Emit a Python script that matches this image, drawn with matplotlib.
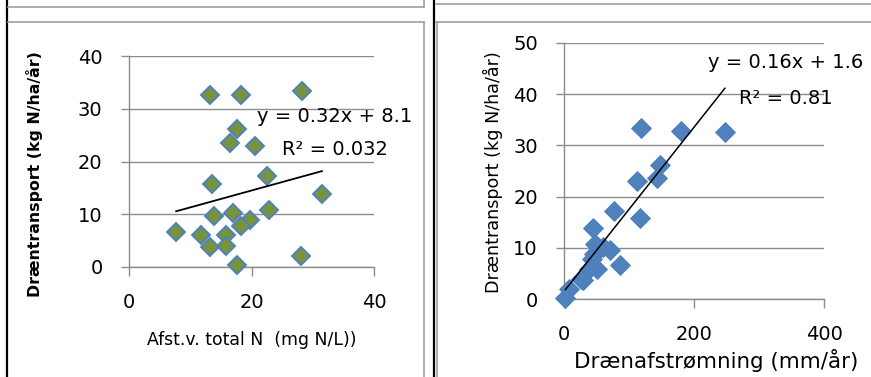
import numpy as np
import matplotlib
matplotlib.use('Agg')
import matplotlib.pyplot as plt
from matplotlib.lines import Line2D

# data (same 21 drains in both)
conc_n = [13.2, 18.3, 28.2, 17.7, 16.5, 20.5, 22.6, 13.5, 31.5, 22.9, 13.8,
          17.0, 19.7, 18.3, 7.7, 11.7, 15.8, 13.3, 15.8, 17.7, 28.0]
transport = [32.6, 32.7, 33.4, 26.1, 23.6, 23.0, 17.2, 15.8, 13.8, 10.8, 9.6,
             10.2, 8.9, 7.8, 6.6, 6.0, 6.0, 3.8, 3.9, 0.3, 2.0]
runoff = [247, 179, 118, 147, 143, 112, 76, 117, 44, 47, 70,
          60, 45, 43, 86, 51, 38, 29, 25, 1.7, 7]

# trendlines as printed in the charts
left_fit = (0.32, 8.1)
right_fit = (0.16, 1.6)
left_eq = ['y = 0.32x + 8.1', 'R² = 0.032']
right_eq = ['y = 0.16x + 1.6', 'R² = 0.81']

left_xticks = [0, 20, 40]
left_yticks = [0, 10, 20, 30, 40]
right_xticks = [0, 200, 400]
right_yticks = [0, 10, 20, 30, 40, 50]

GRID = '#8c8c8c'
BORDER = '#a0a0a0'
W, H = 871, 377

plt.rcParams['font.family'] = 'DejaVu Sans'
fig = plt.figure(figsize=(W / 100, H / 100), dpi=100)


def px_axes(x0, y0, x1, y1):
    # axes from pixel box (top-left origin)
    return fig.add_axes([x0 / W, 1 - y1 / H, (x1 - x0) / W, (y1 - y0) / H])


def fig_line(xs, ys, color, lw):
    fig.add_artist(Line2D([x / W for x in xs], [1 - y / H for y in ys],
                          color=color, lw=lw, transform=fig.transFigure))


def style_axes(ax):
    for s in ['top', 'right']:
        ax.spines[s].set_visible(False)
    for s in ['left', 'bottom']:
        ax.spines[s].set_color(GRID)
        ax.spines[s].set_linewidth(1.0)
    ax.yaxis.grid(True, color=GRID, lw=1.0)
    ax.set_axisbelow(True)
    ax.tick_params(axis='y', length=6, width=1.0, color=GRID, pad=13, labelsize=14)
    ax.tick_params(axis='x', length=6.5, width=1.0, color=GRID, pad=12, labelsize=14)


# table cell borders
fig_line([7, 7], [0, H], 'black', 1.6)
fig_line([8, 424], [7, 7], BORDER, 1.2)
fig_line([423.5, 423.5], [0, 7], BORDER, 1.2)
fig_line([8, 424], [22, 22], BORDER, 1.2)
fig_line([423.5, 423.5], [22, H], BORDER, 1.2)
fig_line([434, 434], [0, H], 'black', 1.6)
fig_line([436, W], [4, 4], BORDER, 1.2)
fig_line([436, W], [22, 22], BORDER, 1.2)
fig_line([436.5, 436.5], [22, H], BORDER, 1.2)

# ---- left chart: koncentration vs transport ----
ax1 = px_axes(129, 56, 374, 267)
style_axes(ax1)
ax1.plot(conc_n, transport, 'D', ms=9.4, mfc='#77933C', mec='#4F81BD',
         mew=1.4, clip_on=False, zorder=3)
xl = np.array([min(conc_n), max(conc_n)])
ax1.plot(xl, left_fit[0] * xl + left_fit[1], color='black', lw=1.3, zorder=4)
ax1.set_xlim(0, 40)
ax1.set_ylim(0, 40)
ax1.set_xticks(left_xticks)
ax1.set_yticks(left_yticks)
ax1.text(0.841, 0.711, left_eq[0], transform=ax1.transAxes, ha='center',
         va='center', fontsize=14)
ax1.text(0.841, 0.559, left_eq[1], transform=ax1.transAxes, ha='center',
         va='center', fontsize=14)
ax1.set_xlabel('Afst.v. total N  (mg N/L))', fontsize=12.4)
ax1.xaxis.label.set_va('center')
ax1.xaxis.set_label_coords(0.5, -0.346)
ax1.set_ylabel('Dræntransport (kg N/ha/år)', fontsize=11.3, fontweight='bold')
ax1.yaxis.label.set_va('center')
ax1.yaxis.set_label_coords(-0.384, 0.44)

# ---- right chart: afstrømning vs transport ----
ax2 = px_axes(564.3, 42.7, 824.3, 299.3)
style_axes(ax2)
ax2.plot(runoff, transport, 'D', ms=10.4, mfc='#4F81BD', mec='#4A7EBB',
         mew=0.6, clip_on=False, zorder=3)
xr = np.array([min(runoff), max(runoff)])
ax2.plot(xr, right_fit[0] * xr + right_fit[1], color='black', lw=1.1, zorder=4)
ax2.set_xlim(0, 400)
ax2.set_ylim(0, 50)
ax2.set_xticks(right_xticks)
ax2.set_yticks(right_yticks)
ax2.text(0.851, 0.921, right_eq[0], transform=ax2.transAxes, ha='center',
         va='center', fontsize=14)
ax2.text(0.853, 0.784, right_eq[1], transform=ax2.transAxes, ha='center',
         va='center', fontsize=14)
ax2.set_xlabel('Drænafstrømning (mm/år)', fontsize=15.4)
ax2.xaxis.label.set_va('center')
ax2.xaxis.set_label_coords(0.585, -0.237)
ax2.set_ylabel('Dræntransport (kg N/ha/år)', fontsize=12.6)
ax2.yaxis.label.set_va('center')
ax2.yaxis.set_label_coords(-0.274, 0.496)

fig.savefig('out.png', dpi=100)
